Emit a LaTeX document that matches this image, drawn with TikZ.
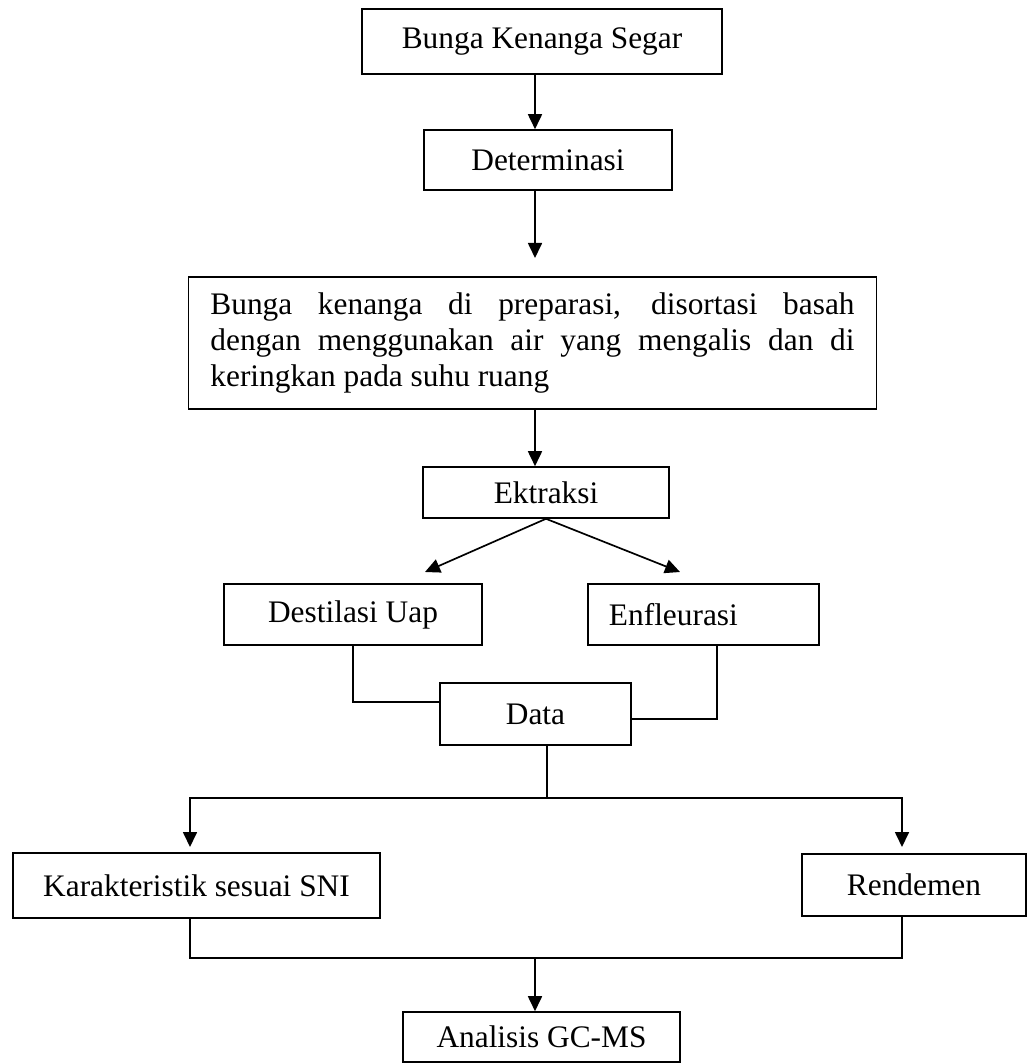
\documentclass[tikz,border=0pt]{standalone}
\usepackage{fontspec}
\setmainfont{Liberation Serif}
\usetikzlibrary{arrows.meta}
\begin{document}
\begin{tikzpicture}[x=0.025cm, y=-0.025cm]
        \tikzstyle{every node}=[font=\fontsize{22.3}{25.6}\selectfont]
        \tikzstyle{box}=[draw, line width=1.1pt, inner sep=0pt]
        \tikzstyle{arr}=[line width=1.2pt, -{Triangle[length=0.375cm,width=0.35cm]}]
        \tikzstyle{link}=[line width=0.9pt]
        \useasboundingbox (0,0) rectangle (1028,1064);
        \node[box, minimum width=9cm, minimum height=1.625cm] (segar) at (542,41.5) {Bunga Kenanga Segar};
        \node[box, minimum width=6.2cm, minimum height=1.5cm] (determinasi) at (548,160) {Determinasi};
        \node[box, text width=16.1cm, inner xsep=0.55cm, minimum height=3.3cm, align=justify] (preparasi) at (532.5,343)
            {\hyphenpenalty=10000 Bunga kenanga di preparasi, disortasi basah\linebreak dengan menggunakan air yang mengalis dan di\linebreak keringkan pada suhu ruang};
        \node[box, minimum width=6.15cm, minimum height=1.275cm] (ektraksi) at (546,492.5) {Ektraksi};
        \node[box, minimum width=6.45cm, minimum height=1.525cm] (destilasi) at (353,614.5) {Destilasi Uap};
        \node[box, text width=4.725cm, inner xsep=0.525cm, minimum height=1.525cm, align=left] (enfleurasi) at (703.5,614.5) {Enfleurasi};
        \node[box, minimum width=4.775cm, minimum height=1.55cm] (data) at (535.5,714) {Data};
        \node[box, minimum width=9.175cm, minimum height=1.625cm] (sni) at (196.5,885.5) {Karakteristik sesuai SNI};
        \node[box, minimum width=5.6cm, minimum height=1.55cm] (rendemen) at (914,885) {Rendemen};
        \node[box, minimum width=6.925cm, minimum height=1.25cm] (gcms) at (541.5,1037) {Analisis GC-MS};
        % alur utama
        \coordinate (spine) at (535,0);
        \coordinate (preptip) at (535,258);
        \draw[arr] (segar.south -| spine) -- (determinasi.north -| spine);
        \draw[arr] (determinasi.south -| spine) -- (preptip);
        \draw[arr] (preparasi.south -| spine) -- (ektraksi.north -| spine);
        % cabang ekstraksi
        \coordinate (destip) at (425,572);
        \coordinate (enftip) at (680,572);
        \draw[arr] (ektraksi.south) -- (destip);
        \draw[arr] (ektraksi.south) -- (enftip);
        \draw[link] (destilasi.south) |- ([yshift=0.3cm]data.west);
        \draw[link] ([xshift=0.34cm]enfleurasi.south) |- ([yshift=-0.125cm]data.east);
        % hasil
        \coordinate (fork) at (547,798);
        \coordinate (snitip) at (190,847);
        \coordinate (rentip) at (902,847);
        \draw[link] (data.south -| fork) -- (fork);
        \draw[arr] (fork) -| (snitip);
        \draw[arr] (fork) -| (rentip);
        \coordinate (join) at (535,958);
        \draw[link] (sni.south -| snitip) |- (join);
        \draw[link] (rendemen.south -| rentip) |- (join);
        \draw[arr] (join) -- (gcms.north -| join);
\end{tikzpicture}
\end{document}
